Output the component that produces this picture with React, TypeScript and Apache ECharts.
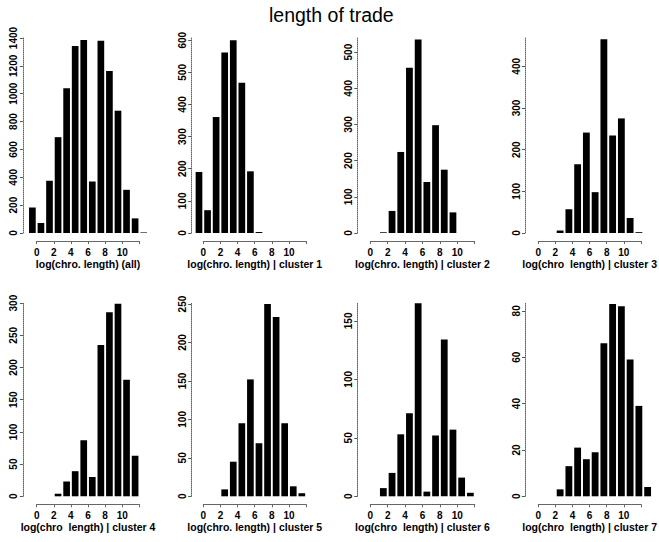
import React, { useEffect, useRef } from "react";
import * as echarts from "echarts";

// histogram bins of width 1, from -1 to 13 (bin centers)
const binCenters = [-0.5, 0.5, 1.5, 2.5, 3.5, 4.5, 5.5, 6.5, 7.5, 8.5, 9.5, 10.5, 11.5, 12.5];

const countsAll = [183, 72, 375, 688, 1039, 1342, 1385, 370, 1380, 1163, 878, 310, 105, 4];
const countsC1 = [190, 71, 361, 562, 600, 468, 192, 3, 0, 0, 0, 0, 0, 0];
const countsC2 = [0, 0, 2, 61, 224, 457, 535, 141, 298, 175, 57, 0, 0, 0];
const countsC3 = [0, 0, 0, 6, 57, 165, 241, 98, 465, 234, 275, 36, 2, 0];
const countsC4 = [0, 0, 0, 4, 23, 39, 87, 30, 235, 286, 299, 181, 63, 0];
const countsC5 = [0, 0, 0, 9, 45, 95, 152, 69, 250, 233, 95, 13, 4, 0];
const countsC6 = [0, 0, 7, 20, 53, 71, 165, 4, 52, 134, 57, 16, 3, 0];
const countsC7 = [0, 0, 0, 3, 13, 21, 16, 19, 66, 83, 82, 59, 39, 4];

const yTicksAll = [0, 200, 400, 600, 800, 1000, 1200, 1400];
const yTicksC1 = [0, 100, 200, 300, 400, 500, 600];
const yTicksC2 = [0, 100, 200, 300, 400, 500];
const yTicksC3 = [0, 100, 200, 300, 400];
const yTicksC4 = [0, 50, 100, 150, 200, 250, 300];
const yTicksC5 = [0, 50, 100, 150, 200, 250];
const yTicksC6 = [0, 50, 100, 150];
const yTicksC7 = [0, 20, 40, 60, 80];

const xTickLabels = [0, 2, 4, 6, 8, 10];
const xTickMarks = [0, 2, 4, 6, 8, 10, 12];

const panelTitles = [
  "log(chro. length) (all)",
  "log(chro. length) | cluster 1",
  "log(chro. length) | cluster 2",
  "log(chro  length) | cluster 3",
  "log(chro  length) | cluster 4",
  "log(chro. length) | cluster 5",
  "log(chro  length) | cluster 6",
  "log(chro  length) | cluster 7",
];

const mainTitle = "length of trade";

// layout (not data)
const yMaxes = [1400, 607, 539, 468, 301, 252, 165.7, 83.6];
const colLeft = [28.1, 194.7, 361.6, 529.5];
const colPitch = [8.56, 8.57, 8.7, 8.75];
const colAxisOffset = [5.2, 3.5, 4.3, 4.5];
const rowTop = [38, 302.5];
const rowHeight = [195, 193.8];
const rowAxisY = [241, 504.3];

const FONT = '"Liberation Sans", Arial, Helvetica, sans-serif';

export default function App() {
  const ref = useRef<HTMLDivElement>(null);

  useEffect(() => {
    if (!ref.current) return;
    const chart = echarts.init(ref.current, undefined, { renderer: "svg" });

    const counts = [countsAll, countsC1, countsC2, countsC3, countsC4, countsC5, countsC6, countsC7];
    const yTicks = [yTicksAll, yTicksC1, yTicksC2, yTicksC3, yTicksC4, yTicksC5, yTicksC6, yTicksC7];

    const grids: any[] = [];
    const xAxes: any[] = [];
    const yAxes: any[] = [];
    const series: any[] = [];

    counts.forEach((cnt, i) => {
      const r = Math.floor(i / 4);
      const c = i % 4;
      const left = colLeft[c];
      const pitch = colPitch[c];

      const gA = grids.length;
      grids.push({ left, top: rowTop[r], width: pitch * 14, height: rowHeight[r] });
      xAxes.push({ gridIndex: gA, type: "value", min: -1, max: 13, show: false });
      yAxes.push({
        gridIndex: gA,
        type: "value",
        min: 0,
        max: yMaxes[i],
        position: "left",
        offset: colAxisOffset[c],
        axisLine: { show: true, onZero: false, lineStyle: { color: "#666", type: "dotted", width: 1 } },
        axisTick: { show: true, length: 3, customValues: yTicks[i], lineStyle: { color: "#555" } },
        axisLabel: {
          show: true,
          customValues: yTicks[i],
          formatter: (v: number) => String(v),
          rotate: 90,
          margin: 4,
          fontSize: 10,
          fontWeight: "bold",
          color: "#000",
          fontFamily: FONT,
        },
        splitLine: { show: false },
      });
      series.push({
        type: "bar",
        xAxisIndex: gA,
        yAxisIndex: gA,
        data: binCenters.map((x, k) => [x, cnt[k]]),
        barWidth: pitch * 0.78,
        itemStyle: { color: "#000" },
        silent: true,
      });

      const gB = grids.length;
      grids.push({ left: left + pitch, top: rowAxisY[r] - 1, width: pitch * 12, height: 1 });
      xAxes.push({
        gridIndex: gB,
        type: "value",
        min: 0,
        max: 12,
        interval: 2,
        position: "bottom",
        axisLine: { show: true, onZero: false, lineStyle: { color: "#666", width: 1 } },
        axisTick: { show: true, length: 3, customValues: xTickMarks, lineStyle: { color: "#666" } },
        axisLabel: {
          customValues: xTickLabels,
          formatter: (v: number) => String(v),
          margin: 6,
          fontSize: 10,
          fontWeight: "bold",
          color: "#000",
          fontFamily: FONT,
        },
        splitLine: { show: false },
        name: panelTitles[i],
        nameLocation: "middle",
        nameGap: 17,
        nameTextStyle: { fontSize: 10.5, fontWeight: "bold", color: "#000", fontFamily: FONT },
      });
      yAxes.push({ gridIndex: gB, type: "value", min: 0, max: 1, show: false });
    });

    chart.setOption({
      animation: false,
      backgroundColor: "#fff",
      title: {
        text: mainTitle,
        left: 264,
        top: 0,
        textStyle: { fontSize: 19.5, fontWeight: "normal", color: "#000", fontFamily: FONT },
      },
      grid: grids,
      xAxis: xAxes,
      yAxis: yAxes,
      series,
    });

    return () => chart.dispose();
  }, []);

  return (
    <div
      ref={ref}
      style={{ position: "absolute", left: 0, top: 0, width: 659, height: 542 }}
    />
  );
}
